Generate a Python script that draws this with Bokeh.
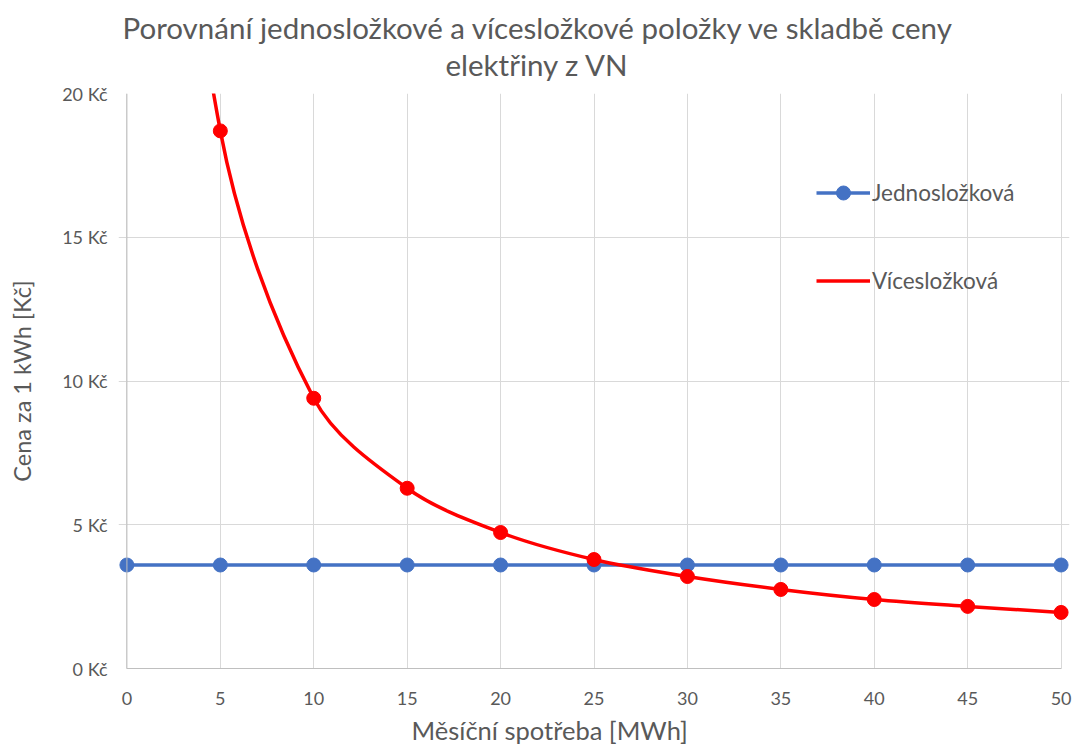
import math
from bokeh.plotting import figure
from bokeh.models import (Range1d, SingleIntervalTicker, PrintfTickFormatter, Legend,
                          LegendItem, Title, Span, ColumnDataSource)
from bokeh.embed import file_html
from bokeh.resources import INLINE

# ---- data ----
spotreba = [0, 5, 10, 15, 20, 25, 30, 35, 40, 45, 50]          # MWh
jednoslozkova = [3.6, 3.6, 3.6, 3.6, 3.6, 3.6, 3.6, 3.6, 3.6, 3.6, 3.6]
viceslozkova = [44.0, 18.7, 9.4, 6.27, 4.73, 3.79, 3.20, 2.75, 2.40, 2.16, 1.95]  # first point off-chart
title_lines = ["Porovnání jednosložkové a vícesložkové položky ve skladbě ceny", "elektřiny z VN"]
x_title = "Měsíční spotřeba [MWh]"
y_title = "Cena za 1 kWh [Kč]"
y_ticks_step = 5
x_ticks_step = 5

TXT = "#595959"
FONT = "Lato"
BLUE = "#4472C4"
RED = "#FF0000"

W, H = 1072, 749
FL, FR, FT, FB = 118, 3, 93, 81
x0r, x1r, y0r, y1r = -0.45, 50.45, 0, 20

p = figure(width=W, height=H, output_backend="svg", toolbar_location=None,
           x_range=Range1d(x0r, x1r), y_range=Range1d(y0r, y1r),
           min_border_left=FL, min_border_right=FR, min_border_top=FT, min_border_bottom=FB)
p.outline_line_color = None
p.background_fill_color = "white"
p.border_fill_color = "white"

# axes
p.xaxis.ticker = SingleIntervalTicker(interval=x_ticks_step)
p.yaxis.ticker = SingleIntervalTicker(interval=y_ticks_step)
p.yaxis.formatter = PrintfTickFormatter(format="%d Kč")
for ax in (p.xaxis[0], p.yaxis[0]):
    ax.major_tick_line_color = None
    ax.minor_tick_line_color = None
    ax.major_tick_out = 0
    ax.major_tick_in = 0
    ax.minor_tick_out = 0
    ax.minor_tick_in = 0
    ax.major_label_text_font = FONT
    ax.major_label_text_font_size = "18px"
    ax.major_label_text_color = TXT
    ax.axis_label_text_font = FONT
    ax.axis_label_text_font_style = "normal"
    ax.axis_label_text_color = TXT
    ax.axis_label_text_font_size = "23.5px"
p.xaxis.axis_line_color = "#bfbfbf"
p.xaxis.bounds = (0, 50)
p.xaxis.major_label_standoff = 23
p.yaxis.axis_line_color = None
p.yaxis.major_label_standoff = 11
p.yaxis.axis_label = y_title
p.yaxis.axis_label_standoff = 23

p.xgrid.grid_line_color = "#d9d9d9"
p.ygrid.grid_line_color = "#d9d9d9"
p.ygrid.bounds = (0, 50)
p.add_layout(Span(location=0, dimension="height", line_color="#bfbfbf", line_width=1))

# title: two lines (the last one added is the upper one)
TITLE_SIZE = 29.5
p.add_layout(Title(text=title_lines[1], align="left", offset=445 - FL, standoff=22.6,
                   text_font=FONT, text_font_size=f"{TITLE_SIZE}px", text_font_style="normal",
                   text_color=TXT), "above")
p.add_layout(Title(text=title_lines[0], align="left", offset=122 - FL, standoff=-23.4,
                   text_font=FONT, text_font_size=f"{TITLE_SIZE}px", text_font_style="normal",
                   text_color=TXT), "above")

# x axis title, placed below the axis with its own horizontal offset
p.add_layout(Title(text=x_title, align="left", offset=411 - FL, standoff=10,
                   text_font=FONT, text_font_size="25.5px", text_font_style="normal",
                   text_color=TXT), "below")

# blue series
b_line = p.line(spotreba, jednoslozkova, line_color=BLUE, line_width=3.3)
b_pts = p.scatter(spotreba, jednoslozkova, size=14, fill_color=BLUE, line_color=BLUE)

# red series: Excel-like smoothed line made of Bezier segments through the data points
sx = (W - FL - FR) / (x1r - x0r)
sy = (H - FT - FB) / (y1r - y0r)
n = len(spotreba)
pts = list(zip(spotreba, viceslozkova))


def dist(a, b):
    return math.hypot((a[0] - b[0]) * sx, (a[1] - b[1]) * sy)


src = dict(x0=[], y0=[], x1=[], y1=[], cx0=[], cy0=[], cx1=[], cy1=[])
for i in range(n - 1):
    pm = pts[max(i - 1, 0)]
    p0 = pts[i]
    p1 = pts[i + 1]
    p2 = pts[min(i + 2, n - 1)]
    dm0, d01, d12 = dist(pm, p0), dist(p0, p1), dist(p1, p2)
    f0 = d01 / (3 * (dm0 + d01)) if i > 0 else 1 / 6
    f1 = d01 / (3 * (d01 + d12)) if i + 2 < n else 1 / 6
    src["x0"].append(p0[0]); src["y0"].append(p0[1])
    src["x1"].append(p1[0]); src["y1"].append(p1[1])
    src["cx0"].append(p0[0] + (p1[0] - pm[0]) * f0); src["cy0"].append(p0[1] + (p1[1] - pm[1]) * f0)
    src["cx1"].append(p1[0] - (p2[0] - p0[0]) * f1); src["cy1"].append(p1[1] - (p2[1] - p0[1]) * f1)
r_line = p.bezier(x0="x0", y0="y0", x1="x1", y1="y1", cx0="cx0", cy0="cy0", cx1="cx1", cy1="cy1",
                  source=ColumnDataSource(src), line_color=RED, line_width=3.5)
r_pts = p.scatter(spotreba[1:], viceslozkova[1:], size=14, fill_color=RED, line_color=RED)

legend = Legend(items=[LegendItem(label="Jednosložková", renderers=[b_line, b_pts]),
                       LegendItem(label="Vícesložková", renderers=[r_line])],
                location=(698, 370), orientation="vertical",
                glyph_width=54, glyph_height=35, label_height=35, spacing=53,
                label_standoff=2, padding=0, margin=0,
                label_text_font=FONT, label_text_font_size="22.5px", label_text_color=TXT,
                background_fill_alpha=0, border_line_alpha=0)
p.add_layout(legend)

open("out.html", "w").write(file_html(p, INLINE))
